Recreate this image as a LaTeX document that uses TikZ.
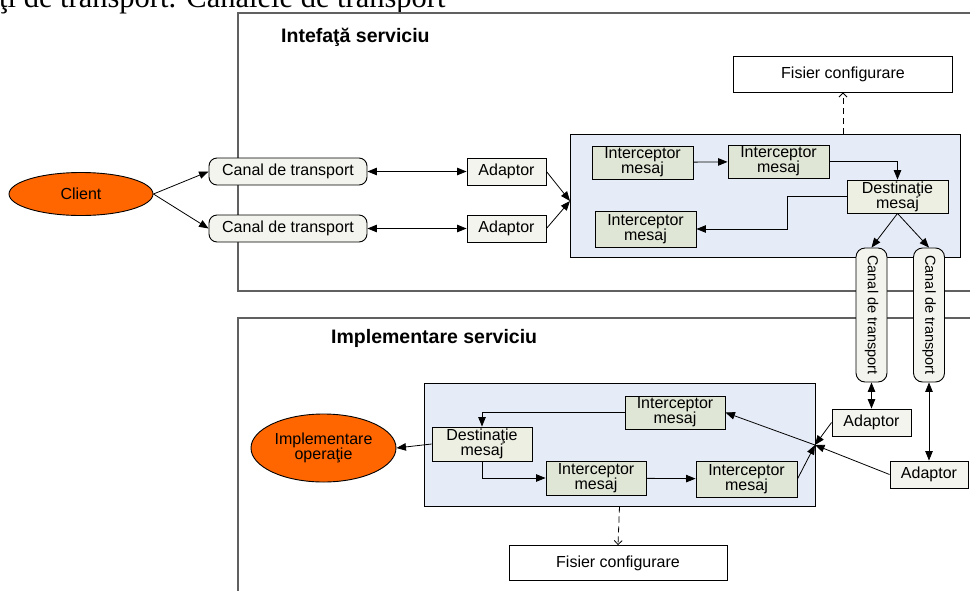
\documentclass[tikz,border=0pt]{standalone}
\usepackage{fontspec}
\setmainfont{Liberation Sans}
\newfontfamily\docfont{Liberation Serif}
\usepackage{graphicx}
\usepackage{tikz}
\usetikzlibrary{arrows.meta}
\usetikzlibrary{shapes.geometric}
\definecolor{grpfill}{RGB}{230,236,247}
\definecolor{chanfill}{RGB}{242,244,237}
\definecolor{icptfill}{RGB}{224,230,214}
\definecolor{destfill}{RGB}{236,239,226}
\definecolor{ovalfill}{RGB}{255,102,0}
\definecolor{framegray}{RGB}{96,96,96}

\begin{document}
\begin{tikzpicture}[
    x=1pt, y=-1pt,
    base/.style={%
      draw,
      line width=0.9pt,
      inner sep=0pt,
      align=center,
      font=\fontsize{16}{15}\selectfont,
    },
    chan/.style={base, rounded corners=8pt, fill=chanfill, minimum width=158pt, minimum height=27pt},
    vchan/.style={base, rounded corners=9pt, fill=chanfill, minimum width=31pt, minimum height=134pt,
      font=\fontsize{14.5}{14.5}\selectfont},
    adapt/.style={base, fill=chanfill, minimum width=79pt, minimum height=27pt},
    icpt/.style={base, fill=icptfill, minimum width=101pt, minimum height=33pt},
    dest/.style={base, fill=destfill, minimum width=101pt, minimum height=33pt},
    cfg/.style={base, fill=white, minimum width=219pt, minimum height=36pt},
    oval/.style={base, ellipse, fill=ovalfill},
    group/.style={draw, line width=1pt, fill=grpfill, inner sep=0pt},
    frame/.style={draw=framegray, line width=1.3pt},
    title/.style={anchor=base west, inner sep=0pt, font=\fontsize{19.5}{19.5}\selectfont\bfseries},
    arr/.style={line width=0.8pt, -{Triangle[length=9.5pt,width=7.5pt]}},
    darr/.style={line width=0.8pt, {Triangle[length=9.5pt,width=7.5pt]}-{Triangle[length=9.5pt,width=7.5pt]}},
    cfgarr/.style={line width=0.8pt, dash pattern=on 6pt off 4pt, -{Straight Barb[length=4pt,width=8pt]}},
  ]

    \useasboundingbox (0,0) rectangle (970,590);
    \clip (0,0) rectangle (970,590);

    \node [anchor=base west, inner sep=0pt, font=\docfont\fontsize{30.5}{30}\selectfont] (doc) at (-1,7) {ţi de transport. Canalele de transport};

    \draw [frame] (238,13) rectangle (1000,291);
    \draw [frame] (238,318) rectangle (1000,620);
    \node [title] (tiA) at (281,42) {Intefaţă serviciu};
    \node [title] (tiB) at (331,343) {Implementare serviciu};

    \node [group, minimum width=390pt, minimum height=123pt] (bA) at (765,195.5) {};
    \node [group, minimum width=391pt, minimum height=123pt] (bB) at (619.5,444.5) {};
    \coordinate (inA) at (570,201);
    \coordinate (inB) at (815,445);

    \node [oval, minimum width=144pt, minimum height=43pt] (C) at (81,194) {Client};
    \node [chan] (tA1) at (288,171.5) {Canal de transport};
    \path (tA1) ++(0,57) node [chan] (tA2) {Canal de transport};
    \node [adapt] (aA1) at (506.5,171.5) {Adaptor};
    \path (aA1) ++(0,57) node [adapt] (aA2) {Adaptor};
    \node [cfg] (fA) at (843,74) {Fisier configurare};
    \node [icpt] (iA1) at (642.5,162.5) {Interceptor\\mesaj};
    \node [icpt] (iA2) at (778.5,161.5) {Interceptor\\mesaj};
    \node [dest] (dA) at (897.5,196.5) {Destinaţie\\mesaj};
    \node [icpt, minimum height=36pt] (iA3) at (645.5,229) {Interceptor\\mesaj};

    \node [vchan] (cV1) at (871.5,315) {\rotatebox{-90}{Canal de transport}};
    \node [vchan] (cV2) at (929,315) {\rotatebox{-90}{Canal de transport}};
    \node [adapt] (aB1) at (871.5,422.5) {Adaptor};
    \node [adapt, minimum width=78pt] (aB2) at (929,474.5) {Adaptor};

    \node [oval, minimum width=145pt, minimum height=68pt] (eB) at (323.5,448) {Implementare\\operaţie};
    \node [dest, minimum width=100pt, minimum height=34pt] (dB) at (482,444) {Destinaţie\\mesaj};
    \node [icpt, minimum width=100pt] (iB1) at (675,412.5) {Interceptor\\mesaj};
    \node [icpt, minimum width=100pt, minimum height=34pt] (iB2) at (596,478) {Interceptor\\mesaj};
    \node [icpt, minimum height=36pt] (iB3) at (746.5,479) {Interceptor\\mesaj};
    \node [cfg, minimum width=218pt, minimum height=35pt] (fB) at (618,563) {Fisier configurare};

    \draw [arr] (C.east) -- (tA1.west);
    \draw [arr] (C.east) -- (tA2.west);
    \draw [darr] (tA1) -- (aA1);
    \draw [darr] (tA2) -- (aA2);
    \draw [arr] (aA1.east) -- (inA);
    \draw [arr] (aA2.east) -- (inA);
    \draw [arr] (iA1) -- (iA2);
    \draw [arr] (iA2.east) -| (dA.north);
    \draw [arr] (dA.west) -- ++(-59,0) |- (iA3.east);
    \draw [arr] (dA.south) -- (cV1.north);
    \draw [arr] (dA.south) -- (cV2.north);
    \draw [cfgarr] (fA.south |- bA.north) -- (fA.south);

    \draw [darr] (cV1) -- (aB1);
    \draw [darr] (cV2) -- (aB2);
    \draw [arr] (aB1.west) -- (inB);
    \draw [arr] (aB2.west) -- (inB);
    \draw [arr] (iB3.east) -- (inB);
    \draw [arr] (inB) -- (iB1.east);
    \draw [arr] (iB1.west) -| (dB.north);
    \draw [arr] (dB.west) -- (eB.east);
    \draw [arr] (dB.south) |- (iB2.west);
    \draw [arr] (iB2) -- (iB3);
    \draw [cfgarr] (bB.south) -- (fB.north);
\end{tikzpicture}
\end{document}
